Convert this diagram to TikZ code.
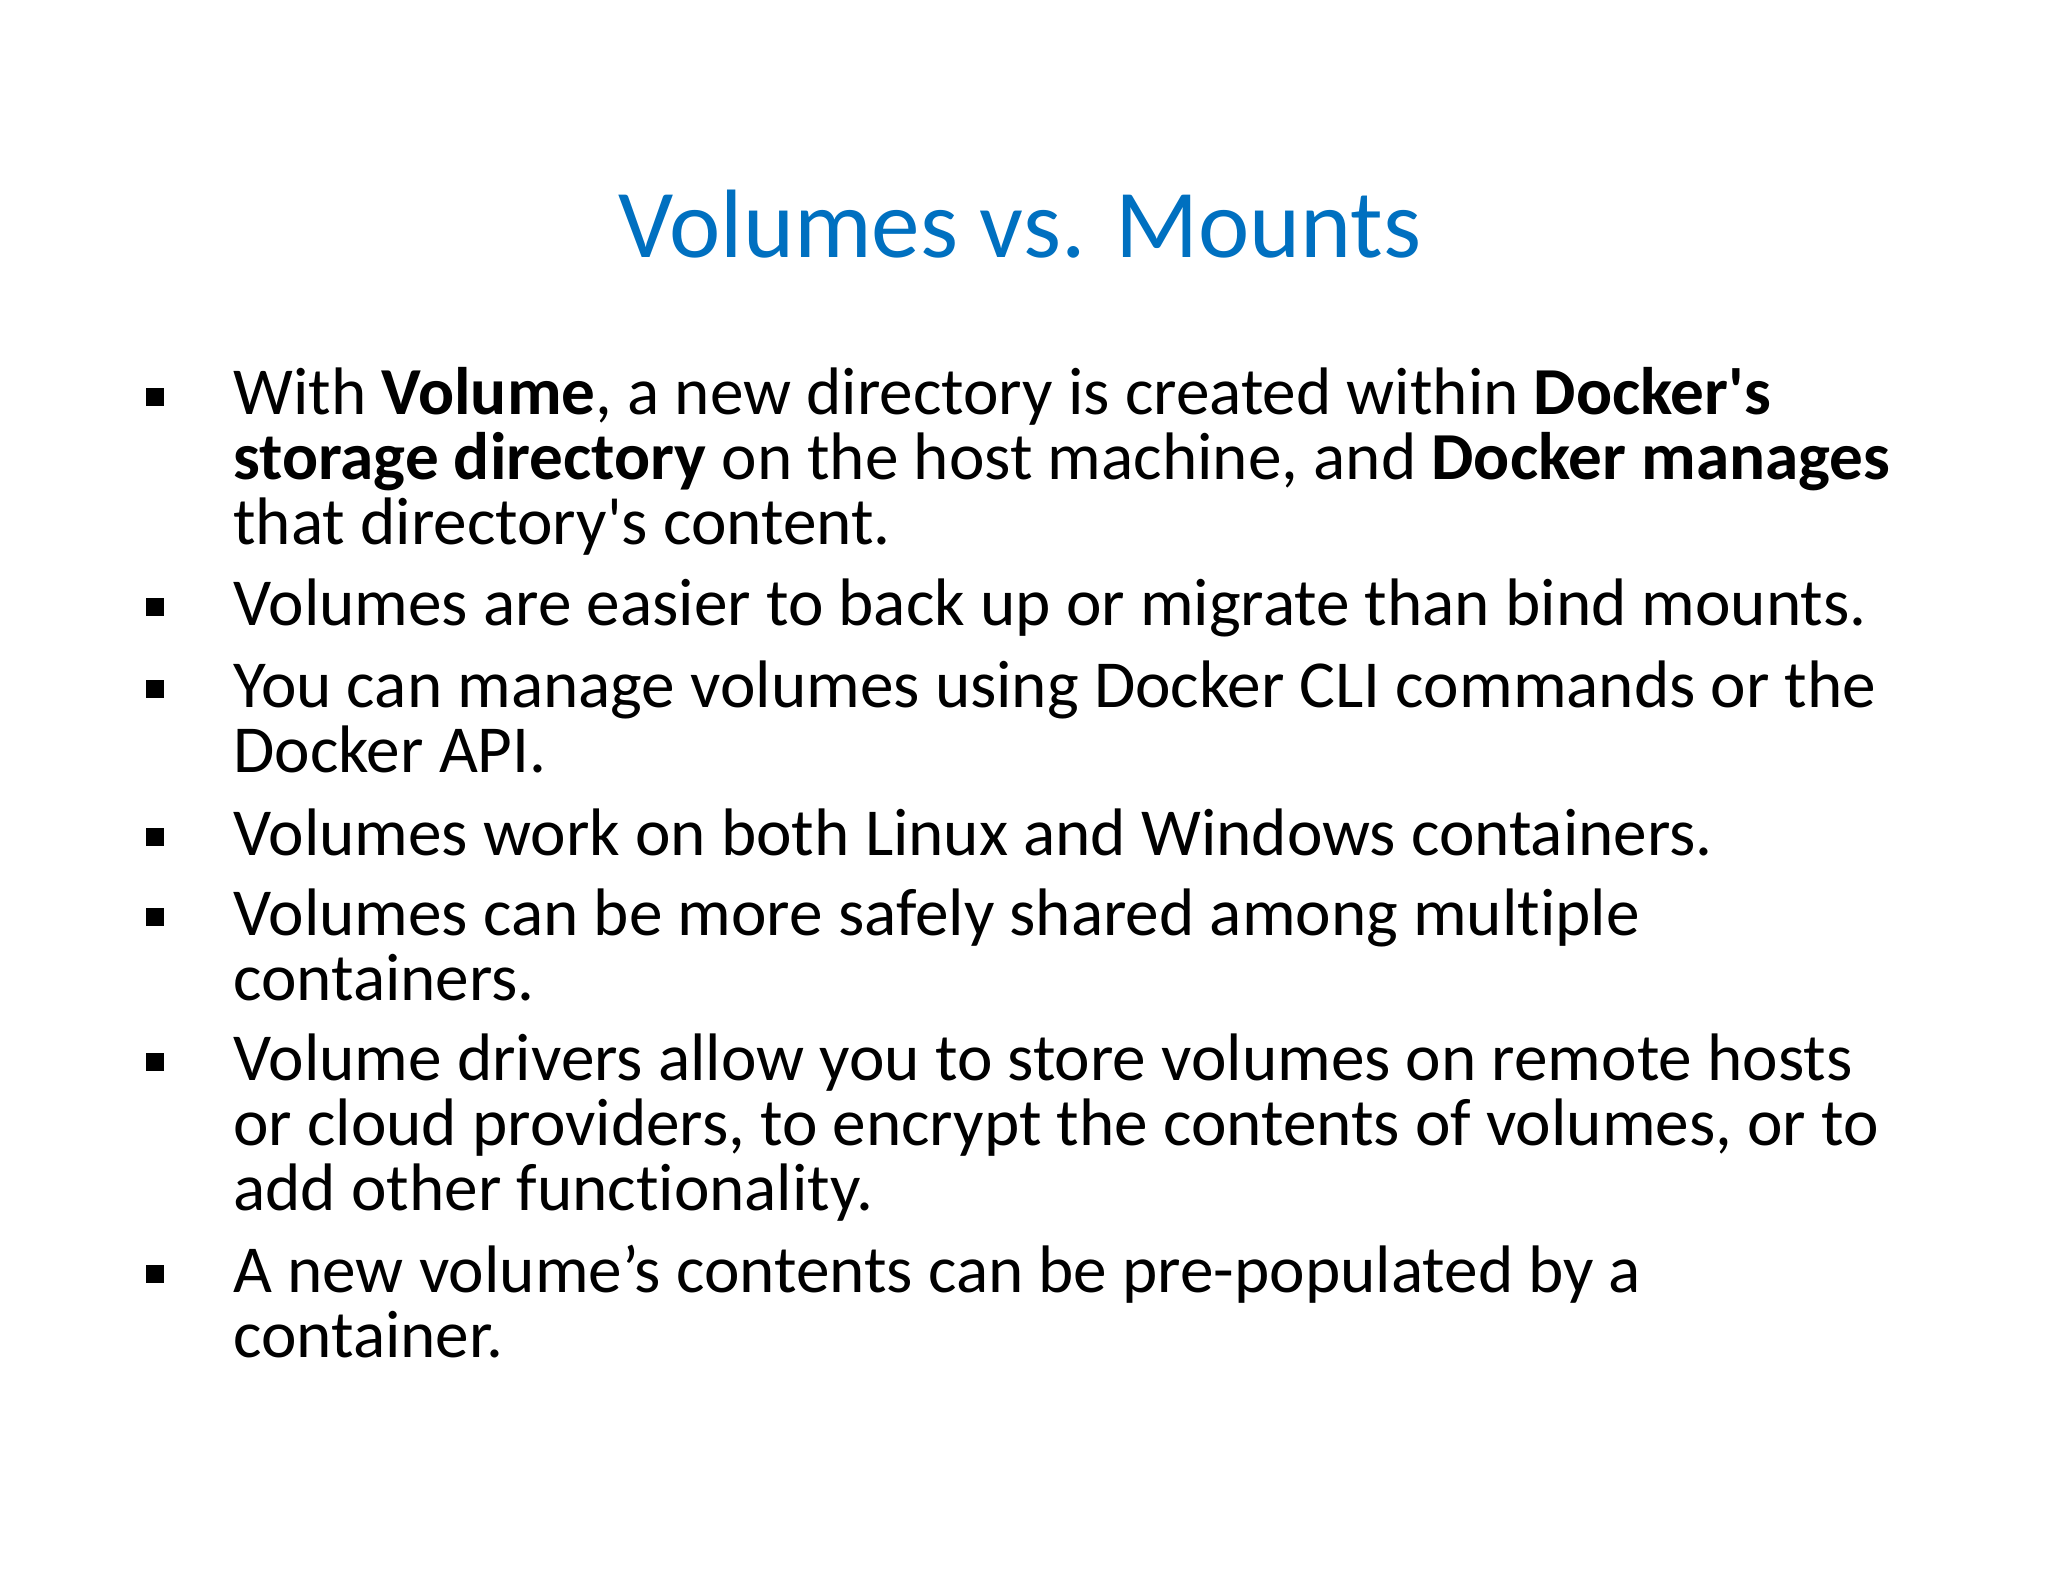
\documentclass[tikz,border=0pt]{standalone}
\usepackage{fontspec}
\setmainfont[Ligatures={NoCommon}]{Carlito}
\definecolor{titleblue}{RGB}{0,112,192}
\tikzset{ln/.style={anchor=base west,inner sep=0pt,font=\fontsize{33.6}{34}\selectfont},
 bul/.style={fill=black,minimum size=9pt,inner sep=0pt}}
\begin{document}
\begin{tikzpicture}[x=0.5pt,y=-0.5pt]
\useasboundingbox (0,0) rectangle (2048,1582);
\node[anchor=base,inner sep=0pt,text=titleblue,font=\fontsize{48.6}{50}\selectfont] (title) at (1020,258) {Volumes vs. Mounts};
\foreach \y in {397,607,689,837,917,1062,1274}{\node[bul] at (155,\y) {};}
\node[ln] (l1) at (233,415) {With \textbf{Volume}, a new directory is created within \textbf{Docker\textquotesingle s}};
\node[ln] (l2) at (233,480) {\textbf{storage directory} on the host machine, and \textbf{Docker manages}};
\node[ln] (l3) at (233,545) {that directory\textquotesingle s content.};
\node[ln] (l4) at (233,625) {Volumes are easier to back up or migrate than bind mounts.};
\node[ln] (l5) at (233,707) {You can manage volumes using Docker CLI commands or the};
\node[ln] (l6) at (233,772) {Docker API.};
\node[ln] (l7) at (233,855) {Volumes work on both Linux and Windows containers.};
\node[ln] (l8) at (233,935) {Volumes can be more safely shared among multiple};
\node[ln] (l9) at (233,1000) {containers.};
\node[ln] (l10) at (233,1080) {Volume drivers allow you to store volumes on remote hosts};
\node[ln] (l11) at (233,1145) {or cloud providers, to encrypt the contents of volumes, or to};
\node[ln] (l12) at (233,1210) {add other functionality.};
\node[ln] (l13) at (233,1292) {A new volume’s contents can be pre-populated by a};
\node[ln] (l14) at (233,1357) {container.};
\end{tikzpicture}
\end{document}
